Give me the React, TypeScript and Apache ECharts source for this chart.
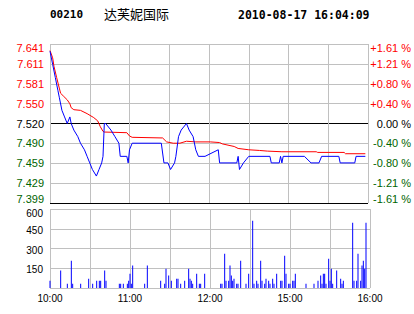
import React, { useEffect, useRef } from 'react';
import * as echarts from 'echarts';

const stockCode = '00210';
const stockName = '达芙妮国际';
const timestamp = '2010-08-17 16:04:09';

const priceMin = 7.399;
const priceMax = 7.641;
const priceTickLabels = ['7.399', '7.429', '7.459', '7.490', '7.520', '7.550', '7.581', '7.611', '7.641'];
const pctTickLabels = ['-1.61 %', '-1.21 %', '-0.80 %', '-0.40 %', '0.00 %', '+0.40 %', '+0.80 %', '+1.21 %', '+1.61 %'];
const volumeMax = 600;
const volumeTickLabels = ['', '150', '300', '450', '600'];
const minuteMax = 240;
const timeTickMinutes = [0, 60, 120, 180, 240];
const timeTickLabels = ['10:00', '11:00', '12:00', '15:00', '16:00'];

// [minute since 10:00 (trading minutes), price]
const priceLine: [number, number][] = [
  [0, 7.63], [2, 7.61], [4, 7.59], [6, 7.57], [7, 7.56], [9, 7.54], [11, 7.53], [13, 7.52], [15, 7.53], [16, 7.52],
  [18, 7.51], [21, 7.5], [23, 7.49], [26, 7.48], [28, 7.47], [30, 7.46], [32, 7.45], [35, 7.44], [37, 7.45], [39, 7.46],
  [40, 7.47], [41, 7.52], [42, 7.52], [46, 7.51], [49, 7.5], [52, 7.49], [53, 7.47], [58, 7.47], [59, 7.46], [60, 7.48],
  [62, 7.49], [84, 7.49], [86, 7.46], [89, 7.46], [91, 7.45], [94, 7.46], [95, 7.47], [97, 7.5], [99, 7.51], [103, 7.52],
  [105, 7.51], [108, 7.5], [110, 7.48], [112, 7.47], [117, 7.47], [127, 7.48], [128, 7.46], [141, 7.46], [142, 7.47],
  [143, 7.45], [146, 7.46], [150, 7.47], [166, 7.47], [167, 7.46], [173, 7.46], [174, 7.47], [175, 7.46], [176, 7.47],
  [192, 7.47], [197, 7.46], [203, 7.46], [205, 7.47], [218, 7.47], [219, 7.46], [230, 7.46], [231, 7.47], [238, 7.47],
];

const avgLine: [number, number][] = [
  [0, 7.631], [2, 7.62], [3, 7.607], [5, 7.59], [7, 7.574], [8, 7.566], [10, 7.562], [13, 7.556], [15, 7.55], [16, 7.544],
  [18, 7.541], [23, 7.54], [28, 7.535], [33, 7.529], [36, 7.524], [38, 7.515], [40, 7.508], [41, 7.507], [58, 7.506],
  [60, 7.501], [62, 7.499], [85, 7.498], [88, 7.492], [93, 7.49], [98, 7.49], [103, 7.493], [110, 7.492], [121, 7.492],
  [128, 7.491], [130, 7.489], [139, 7.485], [142, 7.482], [150, 7.48], [158, 7.479], [164, 7.478], [175, 7.477],
  [201, 7.477], [202, 7.476], [222, 7.476], [223, 7.474], [238, 7.474],
];

// [minute, volume]
const volumeBars: [number, number][] = [
  [0, 56], [8, 132], [13, 33], [16, 207], [17, 33], [23, 33], [29, 71], [32, 33], [35, 56], [37, 56], [38, 56],
  [41, 132], [42, 56], [52, 33], [53, 33], [55, 33], [58, 33], [59, 56], [60, 109], [61, 33], [62, 170], [71, 33],
  [73, 170], [83, 56], [86, 33], [87, 147], [89, 94], [91, 56], [95, 71], [96, 71], [98, 33], [101, 56], [104, 147],
  [105, 71], [106, 56], [107, 33], [110, 109], [112, 33], [113, 33], [116, 109],
  [128, 33], [129, 33], [131, 261], [132, 56], [134, 56], [135, 170], [136, 94], [137, 56], [138, 71], [140, 33],
  [141, 33], [143, 207], [147, 33], [149, 109], [152, 511], [153, 33], [155, 56], [156, 33], [158, 207], [159, 56],
  [161, 33], [162, 71], [164, 56], [165, 33], [167, 71], [168, 33], [170, 109], [173, 56], [174, 56], [176, 245],
  [177, 109], [179, 33], [180, 33], [182, 56], [183, 56], [184, 109], [192, 33], [198, 33], [201, 56], [203, 94],
  [204, 33], [205, 109], [206, 109], [207, 33], [209, 222], [210, 56], [211, 147], [212, 33], [215, 132], [218, 71],
  [219, 33], [220, 56], [227, 496], [228, 56], [230, 56], [231, 261], [233, 56], [234, 170], [235, 207], [236, 147],
  [237, 496],
];

const RED = '#ff0000';
const GREEN = '#006400';
const BLUE = '#0000ff';
const GRID = '#c0c0c0';
const FONT = 'Liberation Sans';

const priceStep = (priceMax - priceMin) / 8;
const priceIndex = (v: any) => Math.round((Number(v) - priceMin) / priceStep);
const labelColor = (i: number) => (i > 4 ? RED : i < 4 ? GREEN : '#000000');

export default function App() {
  const ref = useRef<HTMLDivElement>(null);
  useEffect(() => {
    if (!ref.current) return;
    const chart = echarts.init(ref.current, undefined, { renderer: 'svg' });
    const splitColors = priceTickLabels.map((_, i) => (i === 0 || i === 4 ? '#000000' : GRID));
    const priceRich = {
      top: { padding: [7, 0, 0, 0], color: RED, fontFamily: FONT, fontSize: 11 },
      bot: { padding: [0, 0, 8, 0], color: GREEN, fontFamily: FONT, fontSize: 11 },
    };
    chart.setOption({
      animation: false,
      backgroundColor: '#ffffff',
      title: [
        { text: stockCode, left: 50, top: 9, padding: 0, textStyle: { fontFamily: 'DejaVu Sans Mono', fontWeight: 'bold', fontSize: 11, color: '#000' } },
        { text: stockName, left: 104, top: 7, padding: 0, textStyle: { fontFamily: 'Noto Sans CJK SC', fontWeight: 'normal', fontSize: 13, color: '#000' } },
        { text: timestamp, left: 238, top: 9, padding: 0, textStyle: { fontFamily: 'DejaVu Sans Mono', fontWeight: 'bold', fontSize: 11.5, color: '#000' } },
      ],
      grid: [
        { left: 50, top: 44, width: 320, height: 159 },
        { left: 50, top: 209, width: 320, height: 79 },
      ],
      xAxis: [
        {
          type: 'value', gridIndex: 0, min: 0, max: minuteMax, interval: 30,
          axisLabel: { show: false }, axisTick: { show: false }, axisLine: { show: false },
          splitLine: { show: true, lineStyle: { color: GRID, width: 1 } },
        },
        {
          type: 'value', gridIndex: 1, min: 0, max: minuteMax, interval: 30,
          axisTick: { show: false }, axisLine: { show: false },
          splitLine: { show: true, lineStyle: { color: GRID, width: 1 } },
          axisLabel: {
            show: true, margin: 5, color: '#000', fontFamily: FONT, fontSize: 10,
            showMinLabel: true, showMaxLabel: true, hideOverlap: false,
            formatter: (v: number) => {
              const i = timeTickMinutes.indexOf(Math.round(v));
              return i >= 0 ? timeTickLabels[i] : '';
            },
          },
        },
      ],
      yAxis: [
        {
          type: 'value', gridIndex: 0, position: 'left', min: priceMin, max: priceMax, interval: priceStep,
          axisTick: { show: false }, axisLine: { show: false },
          splitLine: { show: true, lineStyle: { color: splitColors, width: 1 } },
          axisLabel: {
            margin: 6, fontFamily: FONT, fontSize: 11,
            color: (v: any) => labelColor(priceIndex(v)),
            formatter: (v: number) => {
              const i = priceIndex(v);
              const s = priceTickLabels[i] ?? '';
              if (i === 8) return `{top|${s}}`;
              if (i === 0) return `{bot|${s}}`;
              return s;
            },
            rich: priceRich,
          },
        },
        {
          type: 'value', gridIndex: 0, position: 'right', min: priceMin, max: priceMax, interval: priceStep,
          axisTick: { show: false }, axisLine: { show: false }, splitLine: { show: false },
          axisLabel: {
            margin: 43, align: 'right', fontFamily: FONT, fontSize: 11,
            color: (v: any) => labelColor(priceIndex(v)),
            formatter: (v: number) => {
              const i = priceIndex(v);
              const s = pctTickLabels[i] ?? '';
              if (i === 8) return `{top|${s}}`;
              if (i === 0) return `{bot|${s}}`;
              return s;
            },
            rich: priceRich,
          },
        },
        {
          type: 'value', gridIndex: 1, min: 0, max: volumeMax, interval: 150,
          axisTick: { show: false }, axisLine: { show: false },
          splitLine: { show: true, lineStyle: { color: GRID, width: 1 } },
          axisLabel: {
            margin: 7, color: '#000', fontFamily: FONT, fontSize: 10,
            formatter: (v: number) => {
              const i = Math.round(v / 150);
              const s = volumeTickLabels[i] ?? '';
              if (i === 4) return `{top|${s}}`;
              return s ? `{n|${s}}` : '';
            },
            rich: {
              top: { padding: [8, 0, 0, 0], color: '#000', fontFamily: FONT, fontSize: 10 },
              n: { padding: [3, 0, 0, 0], color: '#000', fontFamily: FONT, fontSize: 10 },
            },
          },
        },
      ],
      series: [
        {
          name: 'avg', type: 'line', xAxisIndex: 0, yAxisIndex: 0, data: avgLine,
          showSymbol: false, symbol: 'none', lineStyle: { color: RED, width: 1 }, itemStyle: { color: RED }, z: 2,
        },
        {
          name: 'price', type: 'line', xAxisIndex: 0, yAxisIndex: 0, data: priceLine,
          showSymbol: false, symbol: 'none', lineStyle: { color: BLUE, width: 1 }, itemStyle: { color: BLUE }, z: 3,
        },
        {
          name: 'volume', type: 'bar', xAxisIndex: 1, yAxisIndex: 2, data: volumeBars,
          barWidth: 1, itemStyle: { color: BLUE }, z: 2,
        },
      ],
    });
    return () => chart.dispose();
  }, []);
  return <div ref={ref} style={{ position: 'fixed', left: 0, top: 0, width: 414, height: 314, background: '#fff' }} />;
}
